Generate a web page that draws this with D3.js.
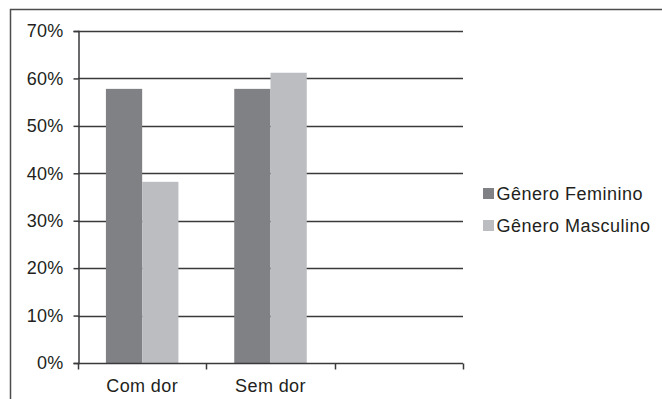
<!DOCTYPE html>
<html>
<head>
<meta charset="utf-8">
<script src="https://cdn.jsdelivr.net/npm/d3@7"></script>
<style>
  html, body { margin: 0; padding: 0; background: #fff; }
  svg { display: block; font-family: "Liberation Sans", Arial, Helvetica, sans-serif; }
</style>
</head>
<body>
<svg id="chart" width="662" height="399"></svg>
<script>
// Categories (the third slot is left empty on the axis)
const categories = ["Com dor", "Sem dor", ""];
const seriesNames = ["Gênero Feminino", "Gênero Masculino"];
const feminino = [0.578, 0.578, null];
const masculino = [0.382, 0.612, null];
const yTicks = [0, 0.1, 0.2, 0.3, 0.4, 0.5, 0.6, 0.7];
const colors = ["#808184", "#bcbdc1"];

const svg = d3.select("#chart");
const textColor = "#231f20";

// Outer frame (top and left edges)
svg.append("path")
  .attr("d", "M10.5,399 L10.5,9.5 L662,9.5")
  .attr("fill", "none").attr("stroke", "#4d4d4f").attr("stroke-width", 1.5);

const plot = { left: 78, right: 463, top: 31, bottom: 363 };

const x = d3.scaleBand().domain(d3.range(categories.length))
  .range([plot.left, plot.right]).paddingInner(0).paddingOuter(0);
const x1 = d3.scaleBand().domain(d3.range(seriesNames.length))
  .range([0, x.bandwidth()]).paddingInner(0).paddingOuter(0.77);
const y = d3.scaleLinear().domain([0, 0.7]).range([plot.bottom, plot.top]);

// Gridlines
svg.append("g").selectAll("line").data(yTicks.slice(1)).join("line")
  .attr("x1", plot.left).attr("x2", plot.right)
  .attr("y1", d => Math.round(y(d)) + 0.5).attr("y2", d => Math.round(y(d)) + 0.5)
  .attr("stroke", "#3a3a3c").attr("stroke-width", 1.5);

// Bars
const series = [feminino, masculino];
series.forEach((vals, s) => {
  svg.append("g").selectAll("rect")
    .data(vals.map((v, i) => ({ v, i })).filter(d => d.v != null))
    .join("rect")
    .attr("x", d => x(d.i) + x1(s))
    .attr("width", x1.bandwidth())
    .attr("y", d => y(d.v))
    .attr("height", d => y(0) - y(d.v))
    .attr("fill", colors[s]);
});

// Y axis
const yAxis = svg.append("g").attr("transform", `translate(${plot.left + 0.5},0)`)
  .call(d3.axisLeft(y).tickValues(yTicks).tickFormat(d3.format(".0%")).tickSizeOuter(0).tickSize(5).tickPadding(10));
yAxis.select(".domain").attr("stroke", "#3a3a3c").attr("stroke-width", 1.5);
yAxis.selectAll(".tick line").attr("stroke", "#3a3a3c").attr("stroke-width", 1.5);
yAxis.selectAll(".tick text").attr("fill", textColor).attr("font-size", 18)
  .attr("font-family", "'Liberation Sans', Arial, sans-serif").attr("letter-spacing", 0.2);

// X axis with ticks at category boundaries
const xAxisG = svg.append("g").attr("transform", `translate(0,${plot.bottom + 0.5})`);
xAxisG.append("line").attr("x1", plot.left).attr("x2", plot.right)
  .attr("stroke", "#3a3a3c").attr("stroke-width", 1.5);
const boundaries = d3.range(categories.length + 1).map(i => plot.left + i * x.bandwidth());
xAxisG.selectAll("line.tk").data(boundaries).join("line").attr("class", "tk")
  .attr("x1", d => Math.round(d) + 0.5).attr("x2", d => Math.round(d) + 0.5)
  .attr("y1", 0).attr("y2", 6)
  .attr("stroke", "#3a3a3c").attr("stroke-width", 1.5);
xAxisG.selectAll("text").data(categories).join("text")
  .attr("x", (d, i) => x(i) + x.bandwidth() / 2)
  .attr("y", 28)
  .attr("text-anchor", "middle")
  .attr("fill", textColor).attr("font-size", 18).attr("letter-spacing", 0.4)
  .text(d => d);

// Legend
const legend = svg.append("g").attr("transform", "translate(483,193)");
seriesNames.forEach((name, i) => {
  const g = legend.append("g").attr("transform", `translate(0,${i * 32})`);
  g.append("rect").attr("x", 0).attr("y", -5).attr("width", 11).attr("height", 11).attr("fill", colors[i]);
  g.append("text").attr("x", 13.5).attr("y", 6.5).attr("fill", textColor)
    .attr("font-size", 18).attr("letter-spacing", 0.5).text(name);
});
</script>
</body>
</html>
